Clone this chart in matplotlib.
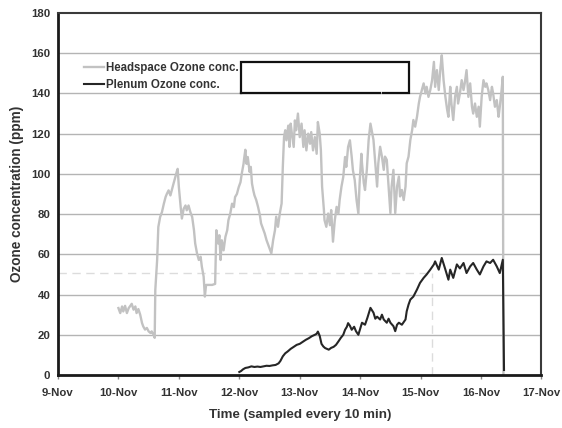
import matplotlib
matplotlib.use("Agg")
import matplotlib.pyplot as plt

plt.rcParams['font.family'] = ['Liberation Sans', 'DejaVu Sans']
plt.rcParams['font.weight'] = 'bold'

# ---- data (day of November) ----
head_day = [10.00, 10.03, 10.06, 10.08, 10.11, 10.14, 10.17, 10.19, 10.22, 10.25, 10.28, 10.30,
            10.33, 10.36, 10.39, 10.41, 10.44, 10.47, 10.50, 10.53, 10.55, 10.58, 10.60, 10.61,
            10.64, 10.66, 10.69, 10.72, 10.75, 10.78, 10.80, 10.83, 10.86, 10.89, 10.91, 10.94,
            10.97, 10.98, 11.00, 11.03, 11.05, 11.08, 11.11, 11.13, 11.16, 11.19, 11.22, 11.25,
            11.27, 11.30, 11.33, 11.36, 11.38, 11.41, 11.43, 11.45, 11.49, 11.55, 11.60, 11.62,
            11.65, 11.67, 11.69, 11.71, 11.74, 11.77, 11.80, 11.82, 11.85, 11.88, 11.91, 11.93,
            11.96, 11.99, 12.02, 12.04, 12.07, 12.08, 12.10, 12.12, 12.14, 12.17, 12.19, 12.21,
            12.23, 12.25, 12.28, 12.31, 12.34, 12.36, 12.39, 12.42, 12.45, 12.48, 12.50, 12.53,
            12.56, 12.59, 12.61, 12.64, 12.67, 12.70, 12.72, 12.74, 12.76, 12.78, 12.81, 12.83,
            12.85, 12.87, 12.90, 12.92, 12.94, 12.97, 13.00, 13.03, 13.06, 13.08, 13.11, 13.14,
            13.17, 13.19, 13.22, 13.25, 13.28, 13.30, 13.33, 13.35, 13.37, 13.40, 13.41, 13.44,
            13.47, 13.50, 13.52, 13.55, 13.58, 13.61, 13.64, 13.66, 13.69, 13.72, 13.75, 13.77,
            13.80, 13.83, 13.86, 13.88, 13.91, 13.94, 13.97, 13.99, 14.02, 14.03, 14.06, 14.08,
            14.11, 14.14, 14.17, 14.19, 14.22, 14.25, 14.28, 14.30, 14.33, 14.36, 14.39, 14.41,
            14.44, 14.47, 14.50, 14.52, 14.55, 14.58, 14.61, 14.64, 14.66, 14.69, 14.72, 14.75,
            14.77, 14.80, 14.83, 14.86, 14.88, 14.91, 14.94, 14.97, 14.99, 15.02, 15.05, 15.08,
            15.10, 15.13, 15.16, 15.19, 15.22, 15.24, 15.27, 15.30, 15.33, 15.35, 15.38, 15.41,
            15.44, 15.46, 15.49, 15.51, 15.54, 15.57, 15.60, 15.62, 15.65, 15.68, 15.71, 15.73,
            15.76, 15.79, 15.82, 15.85, 15.87, 15.90, 15.93, 15.96, 15.98, 16.01, 16.04, 16.07,
            16.09, 16.12, 16.15, 16.18, 16.20, 16.23, 16.26, 16.29, 16.31, 16.34, 16.36, 16.37]
head_ppm = [33.3, 30.8, 34.1, 31.6, 34.4, 30.8, 33.3, 34.1, 35.4, 32.5, 34.1, 30.8,
            32.8, 30.0, 25.9, 24.2, 22.6, 23.4, 21.7, 20.9, 21.7, 20.1, 18.5, 42.3,
            57.0, 73.6, 78.6, 81.0, 85.0, 88.5, 90.0, 91.8, 89.3, 92.6, 95.0, 98.4,
            101.6, 102.5, 93.4, 83.5, 77.8, 82.7, 84.3, 81.9, 84.3, 81.0, 78.6, 72.0,
            65.4, 60.5, 57.2, 58.8, 53.9, 48.9, 39.0, 44.8, 44.8, 44.8, 45.3, 72.0,
            65.4, 69.5, 57.2, 67.0, 62.0, 68.7, 72.0, 77.0, 80.2, 85.2, 83.5, 88.5,
            90.0, 93.4, 95.9, 100.0, 105.0, 107.6, 112.0, 105.0, 108.4, 101.0, 103.5, 95.2,
            92.0, 89.4, 87.0, 83.6, 79.5, 75.4, 72.9, 70.4, 67.1, 64.6, 63.0, 60.5,
            67.1, 72.0, 78.7, 73.7, 80.3, 85.3, 103.5, 118.3, 121.7, 116.7, 124.0, 113.4,
            125.0, 120.0, 113.4, 126.6, 121.7, 130.0, 118.3, 125.0, 113.4, 121.7, 111.7, 120.0,
            115.0, 120.8, 111.7, 118.3, 110.0, 125.8, 120.0, 111.7, 93.6, 82.0, 77.0, 73.7,
            80.3, 74.5, 82.0, 66.3, 77.0, 83.6, 80.3, 87.0, 93.6, 98.5, 108.4, 103.5,
            113.4, 116.7, 108.4, 101.8, 96.9, 87.0, 80.3, 95.2, 110.0, 105.3, 95.4, 92.0,
            102.0, 116.9, 125.0, 121.8, 116.9, 105.3, 93.7, 105.3, 113.5, 108.6, 102.0, 108.6,
            107.0, 93.7, 80.5, 93.7, 102.0, 80.5, 93.7, 98.7, 88.8, 92.0, 87.0, 93.7,
            105.3, 108.6, 116.9, 121.8, 126.8, 123.5, 128.4, 135.0, 138.3, 141.7, 145.0, 140.0,
            143.3, 138.3, 141.7, 146.6, 155.7, 143.3, 151.6, 141.7, 153.2, 159.0, 146.6, 138.3,
            131.7, 128.4, 143.3, 135.0, 126.8, 138.3, 143.3, 135.0, 140.0, 146.6, 141.7, 145.0,
            151.6, 138.3, 145.0, 133.4, 130.0, 135.0, 128.4, 133.4, 123.5, 138.3, 146.6, 143.3,
            145.0, 141.7, 136.7, 143.3, 140.0, 133.4, 136.7, 128.4, 133.4, 141.7, 148.3, 0.3]

plen_day = [12.00, 12.03, 12.06, 12.10, 12.15, 12.20, 12.25, 12.30, 12.35, 12.40, 12.45, 12.50,
            12.55, 12.60, 12.65, 12.68, 12.72, 12.76, 12.80, 12.85, 12.90, 12.95, 13.00, 13.05,
            13.10, 13.15, 13.20, 13.25, 13.28, 13.30, 13.33, 13.36, 13.39, 13.42, 13.45, 13.48,
            13.52, 13.56, 13.60, 13.64, 13.68, 13.72, 13.75, 13.78, 13.80, 13.83, 13.86, 13.90,
            13.93, 13.97, 14.00, 14.03, 14.08, 14.12, 14.17, 14.22, 14.25, 14.28, 14.33, 14.36,
            14.39, 14.44, 14.47, 14.50, 14.55, 14.58, 14.61, 14.64, 14.69, 14.75, 14.77, 14.80,
            14.83, 14.88, 14.94, 14.99, 15.05, 15.10, 15.16, 15.22, 15.24, 15.30, 15.35, 15.41,
            15.46, 15.49, 15.54, 15.60, 15.65, 15.71, 15.76, 15.82, 15.87, 15.93, 15.98, 16.04,
            16.09, 16.15, 16.20, 16.26, 16.31, 16.36, 16.38]
plen_ppm = [1.5, 2.0, 2.8, 3.5, 3.8, 4.3, 4.0, 4.2, 4.0, 4.3, 4.6, 4.5,
            4.8, 5.0, 5.8, 7.0, 9.3, 10.8, 11.7, 13.0, 14.0, 15.0, 15.5, 16.5,
            17.5, 18.3, 19.3, 20.0, 20.5, 21.6, 19.5, 15.5, 14.2, 13.4, 13.0, 12.6,
            13.5, 14.0, 15.0, 16.7, 18.5, 20.0, 22.5, 24.0, 25.8, 24.5, 22.5, 24.0,
            21.8, 20.0, 23.0, 26.0, 25.0, 28.5, 33.4, 31.0, 28.0, 29.0, 27.6, 30.0,
            27.6, 26.0, 28.0, 26.0, 24.3, 21.8, 25.0, 26.0, 25.0, 27.6, 31.7, 35.0,
            37.5, 39.0, 42.5, 45.8, 48.3, 50.0, 52.4, 55.0, 56.5, 52.4, 58.2, 52.4,
            47.4, 52.4, 48.3, 55.0, 53.0, 55.7, 50.7, 54.0, 55.7, 52.4, 50.0, 54.0,
            56.5, 55.7, 57.3, 54.0, 50.7, 57.3, 2.5]

x_ticks = [9, 10, 11, 12, 13, 14, 15, 16, 17]
x_labels = ["9-Nov", "10-Nov", "11-Nov", "12-Nov", "13-Nov", "14-Nov", "15-Nov", "16-Nov", "17-Nov"]
y_ticks = [0, 20, 40, 60, 80, 100, 120, 140, 160, 180]

txt = '#333333'

fig = plt.figure(figsize=(5.62, 4.28), dpi=100)
ax = fig.add_axes([0.1032, 0.1238, 0.8603, 0.8458])

for v in y_ticks[1:-1]:
    ax.axhline(v, color='#b4b4b4', lw=1.0, zorder=1)

# faint dashed guide lines
ax.plot([9, 15.19], [50.5, 50.5], color='#dcdcdc', lw=1.0, ls=(0, (6, 4)), zorder=1)
ax.plot([15.19, 15.19], [0, 50.5], color='#dcdcdc', lw=1.0, ls=(0, (6, 4)), zorder=1)

ax.plot(head_day, head_ppm, color='#c2c2c2', lw=1.7, zorder=2, label='Headspace Ozone conc.')
ax.plot(plen_day, plen_ppm, color='#262626', lw=1.5, zorder=3, label='Plenum Ozone conc.')

# empty black box
ax.plot([12.03, 12.03, 14.80, 14.80, 14.38], [140.4, 155.6, 155.6, 140.4, 140.4],
        color='#111111', lw=1.6, zorder=4, solid_joinstyle='miter')
ax.plot([14.33, 12.03], [140.4, 140.4], color='#111111', lw=1.6, zorder=4)

ax.set_xlim(9, 17)
ax.set_ylim(0, 180)
ax.set_xticks(x_ticks)
ax.set_xticklabels(x_labels)
ax.set_yticks(y_ticks)
ax.tick_params(axis='x', direction='out', length=3, width=1, color='#888888',
               labelsize=8.2, labelcolor=txt, pad=6.5)
ax.tick_params(axis='y', length=0, labelsize=8.2, labelcolor=txt, pad=5.5)
for lab in ax.get_xticklabels() + ax.get_yticklabels():
    lab.set_fontweight('bold')

ax.set_xlabel('Time (sampled every 10 min)', fontsize=9.6, fontweight='bold', color=txt, labelpad=8)
ax.set_ylabel('Ozone concentration (ppm)', fontsize=9.8, fontweight='bold', color=txt, labelpad=5)

for s in ['left', 'bottom']:
    ax.spines[s].set_linewidth(2.0)
    ax.spines[s].set_color('#1a1a1a')
for s in ['top', 'right']:
    ax.spines[s].set_linewidth(1.5)
    ax.spines[s].set_color('#3a3a3a')

leg = ax.legend(loc='upper left', bbox_to_anchor=(0.045, 0.877), frameon=False,
                fontsize=8.3, handlelength=1.7, handletextpad=0.2, labelspacing=0.45,
                borderaxespad=0)
for t in leg.get_texts():
    t.set_fontweight('bold')
    t.set_color(txt)

fig.savefig('out.png', dpi=100, facecolor='white')
